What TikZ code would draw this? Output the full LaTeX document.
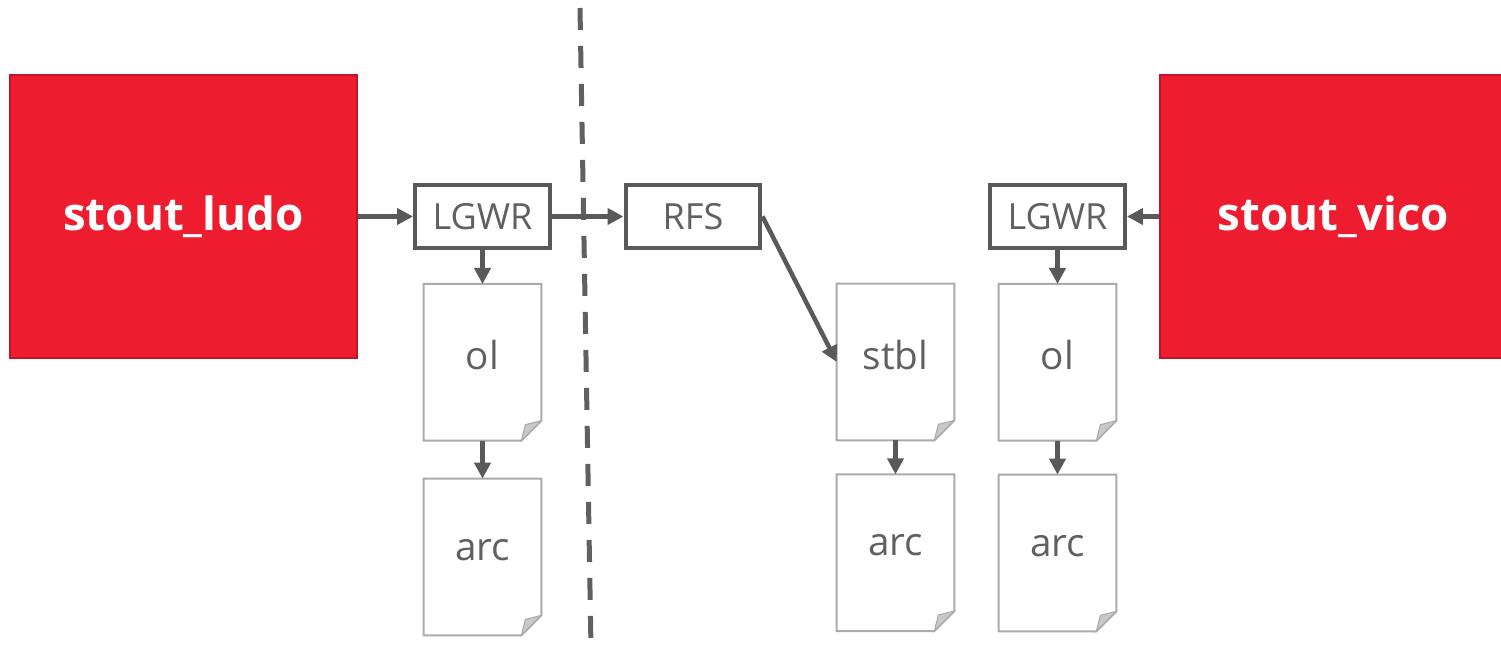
\documentclass[tikz,border=0pt]{standalone}
\usepackage{fontspec}
\setmainfont{Open Sans}
\usetikzlibrary{arrows.meta, positioning}
\definecolor{boxred}{RGB}{237,28,46}
\definecolor{boxredline}{RGB}{190,22,40}
\definecolor{linegray}{RGB}{89,89,89}
\definecolor{textgray}{RGB}{96,96,96}
\definecolor{docline}{RGB}{170,170,170}
\definecolor{foldgray}{RGB}{200,200,200}

\begin{document}
\begin{tikzpicture}[
    x=0.02cm, y=-0.02cm,
    host/.style={rectangle, draw=boxredline, line width=1.2pt, fill=boxred, minimum width=6.94cm,
                 minimum height=5.66cm, text=white, font=\fontsize{26}{30}\selectfont\bfseries},
    proc/.style={rectangle, draw=linegray, line width=0.08cm, fill=white, minimum width=2.7cm,
                 minimum height=1.26cm, text=textgray, font=\fontsize{20.5}{24}\selectfont},
    doc/.style={rectangle, minimum width=2.34cm, minimum height=3.12cm, text=textgray,
                text depth=0.3cm, font=\fontsize{22}{26}\selectfont},
    arrow/.style={-{Triangle[length=0.32cm, width=0.32cm]}, line width=0.09cm, draw=linegray},
    cut/.style={draw=textgray, line width=0.1cm, dash pattern=on 0.44cm off 0.32cm}
]
    \clip (0,0) rectangle (1501,651);
    % primary and standby side
    \coordinate (cutT) at (580,8);
    \coordinate (cutB) at (591,648);
    \draw[cut] (cutT) -- (cutB);

    \node[host] (ludo) at (183.5,216.5) {stout\_ludo};
    \node[host] (vico) at (1333.5,216.5) {stout\_vico};
    \node[proc] (lgwrA) at (482.5,216.5) {LGWR};
    \node[proc] (rfs) at (693,216.5) {RFS};
    \node[proc] (lgwrB) at (1057.5,216.5) {LGWR};

    \node[doc, below=0.68cm of lgwrA] (olA) {ol};
    \node[doc, below=0.76cm of olA] (arcA) {arc};
    \node[doc] (stbl) at (895.5,362) {stbl};
    \node[doc, below=0.68cm of stbl] (arcB) {arc};
    \node[doc, below=0.68cm of lgwrB] (olB) {ol};
    \node[doc, below=0.68cm of olB] (arcC) {arc};

    % page outline with folded corner
    \foreach \d in {olA, arcA, stbl, arcB, olB, arcC} {
        \draw[docline, line width=0.04cm] (\d.north west) -- (\d.north east)
            -- ([yshift=0.4cm]\d.south east) -- ([xshift=-0.4cm]\d.south east)
            -- (\d.south west) -- cycle;
        \filldraw[fill=foldgray, draw=docline, line width=0.02cm] ([yshift=0.4cm]\d.south east)
            -- ([xshift=-0.4cm]\d.south east) -- ([xshift=-0.32cm, yshift=0.32cm]\d.south east) -- cycle;
    }

    \draw[arrow] (ludo) -- (lgwrA);
    \draw[arrow] (lgwrA) -- (rfs);
    \draw[arrow] (rfs.east) -- (stbl.west);
    \draw[arrow] (vico) -- (lgwrB);
    \draw[arrow] (lgwrA) -- (olA);
    \draw[arrow] (olA) -- (arcA);
    \draw[arrow] (stbl) -- (arcB);
    \draw[arrow] (lgwrB) -- (olB);
    \draw[arrow] (olB) -- (arcC);
\end{tikzpicture}
\end{document}
